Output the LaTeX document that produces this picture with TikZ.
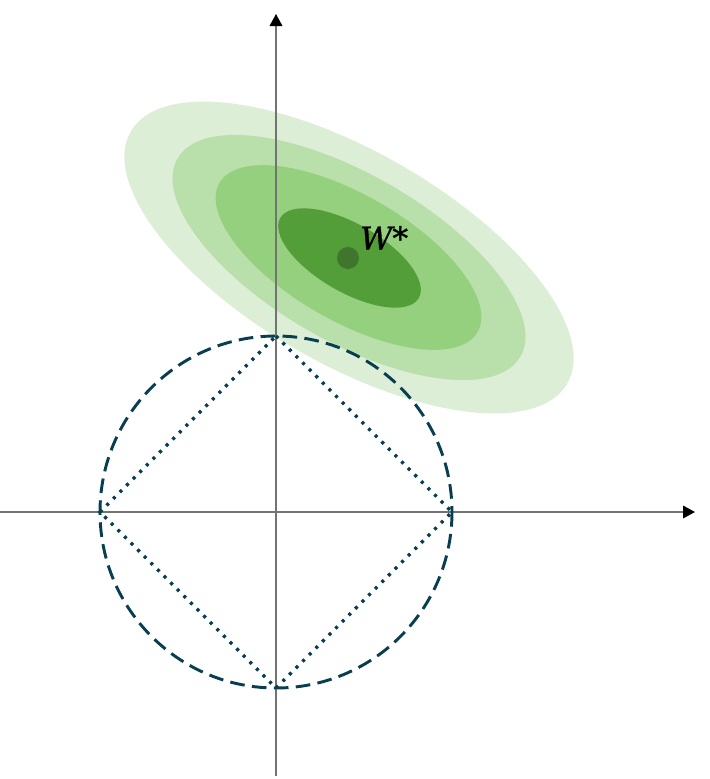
\documentclass[tikz,border=0pt]{standalone}
\usepackage{amsmath}
\usepackage{amssymb}
\usepackage{fontspec}
\usepackage{tikz}
\usetikzlibrary{arrows.meta}

\newfontfamily\labelfont[FakeBold=1.2]{DejaVu Serif}

\definecolor{level1}{RGB}{220,239,214}
\definecolor{level2}{RGB}{185,224,170}
\definecolor{level3}{RGB}{148,208,126}
\definecolor{level4}{RGB}{83,158,57}
\definecolor{optdot}{RGB}{63,117,45}
\definecolor{normcol}{RGB}{8,62,80}
\definecolor{axiscol}{RGB}{115,115,115}

\begin{document}
\begin{tikzpicture}[x=0.75pt,y=0.75pt,yscale=-1,xscale=1,
        axis/.style={color=axiscol,line width=1pt,-{Triangle[length=9pt,width=9.5pt,color=black]}},
        ltwo/.style={color=normcol,line width=2.2pt,dash pattern=on 11pt off 5.5pt},
        lone/.style={color=normcol,line width=2.4pt,dash pattern=on 2.3pt off 4.7pt}]
        \useasboundingbox (0,0) rectangle (710,779);

        % Loss contours
        \fill [level1] (349,257.5) ellipse [x radius=252, y radius=106, rotate=30];
        \fill [level2] (349,257.5) ellipse [x radius=198, y radius=83.5, rotate=30];
        \fill [level3] (348.5,257.5) ellipse [x radius=149, y radius=63, rotate=30];
        \fill [level4] (349.5,258) ellipse [x radius=80, y radius=34, rotate=30];

        % Optimum
        \node (wstar) [circle,fill=optdot,inner sep=0pt,minimum size=16.5pt] at (348,258) {};
        \node (wlabel) [anchor=base west,inner sep=0pt,font=\labelfont\fontsize{23.5}{28}\selectfont] at ([xshift=3pt,yshift=-0.5pt]wstar.north east) {\itshape W\upshape*};

        % Axes
        \coordinate (O) at (276,512);
        \coordinate (xl) at (0,512);
        \coordinate (xr) at (695,512);
        \coordinate (yb) at (276,776);
        \coordinate (yt) at (276,14);
        \draw [axis] (xl) -- (xr);
        \draw [axis] (yb) -- (yt);

        % L2 ball
        \draw [ltwo] (O) circle [radius=176];

        % L1 ball
        \coordinate (top) at (276,336);
        \coordinate (right) at (452,512);
        \coordinate (bottom) at (276,688);
        \coordinate (left) at (100,512);
        \draw [lone] (top) -- (right) -- (bottom) -- (left) -- cycle;

\end{tikzpicture}
\end{document}
